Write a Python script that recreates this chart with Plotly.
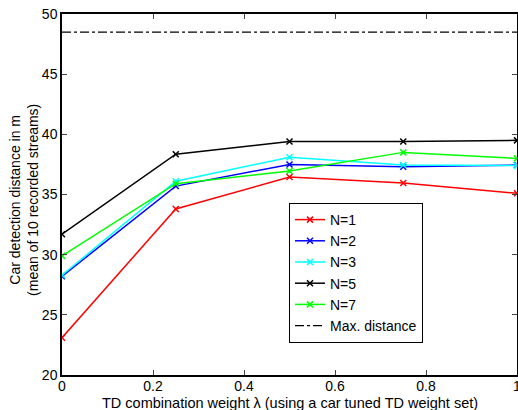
import plotly.graph_objects as go

lam = [0, 0.25, 0.5, 0.75, 1.0]
n1 = [23.1, 33.8, 36.45, 35.95, 35.1]
n2 = [28.2, 35.7, 37.5, 37.3, 37.45]
n3 = [28.3, 36.1, 38.1, 37.45, 37.4]
n5 = [31.7, 38.35, 39.4, 39.4, 39.5]
n7 = [29.9, 35.9, 36.95, 38.5, 38.0]
max_dist = 48.5

series = [("N=1", n1, "#ff0000"), ("N=2", n2, "#0000ff"), ("N=3", n3, "#00ffff"),
          ("N=5", n5, "#000000"), ("N=7", n7, "#00ff00")]

fig = go.Figure()
for name, ys, col in series:
    fig.add_trace(go.Scatter(x=lam, y=ys, name=name, mode="lines+markers",
                             line=dict(color=col, width=1.5),
                             marker=dict(symbol="x-thin", size=6, line=dict(color=col, width=1.5), color=col)))
fig.add_trace(go.Scatter(x=[0, 1], y=[max_dist, max_dist], name="Max. distance", mode="lines",
                         line=dict(color="black", width=1.2, dash="dashdot")))

font = dict(family="Liberation Sans, Arial, sans-serif", size=14, color="black")
fig.update_layout(
    width=518, height=410, margin=dict(l=62, r=1, t=14, b=35, autoexpand=False),
    paper_bgcolor="white", plot_bgcolor="white", font=font, showlegend=True,
    legend=dict(x=(289-62)/455, y=(375-203)/361, xanchor="left", yanchor="top",
                bordercolor="black", borderwidth=1, bgcolor="white",
                font=dict(size=14), tracegroupgap=0, itemwidth=30),
)
fig.update_xaxes(range=[0, 1], tickvals=[0, 0.2, 0.4, 0.6, 0.8, 1], ticktext=["0", "0.2", "0.4", "0.6", "0.8", "1"],
                 ticks="inside", ticklen=5, showline=True, linecolor="black", linewidth=1.5, mirror="ticks",
                 showgrid=False, zeroline=False, tickfont=dict(size=14), automargin=False,
                 ticklabeloverflow="allow", ticklabelstandoff=-3)
fig.update_yaxes(range=[20, 50], tickvals=[20, 25, 30, 35, 40, 45, 50],
                 ticks="inside", ticklen=5, showline=True, linecolor="black", linewidth=1.5, mirror="ticks",
                 showgrid=False, zeroline=False, tickfont=dict(size=14), automargin=False,
                 ticklabeloverflow="allow")
fig.add_annotation(text="TD combination weight λ (using a car tuned TD weight set)", xref="paper", yref="paper",
                   x=0.5, y=-(393-375)/361, xanchor="center", yanchor="top", showarrow=False,
                   font=dict(size=14.5))
fig.add_annotation(text="Car detection distance in m<br>(mean of 10 recorded streams)", xref="paper", yref="paper",
                   x=-(62-43)/455, y=0.485, xanchor="right", yanchor="middle", textangle=-90, showarrow=False,
                   font=dict(size=14))
fig.write_html("out.html", config={"displayModeBar": False},
               post_script="document.body.style.margin='0';document.body.style.padding='0';")
